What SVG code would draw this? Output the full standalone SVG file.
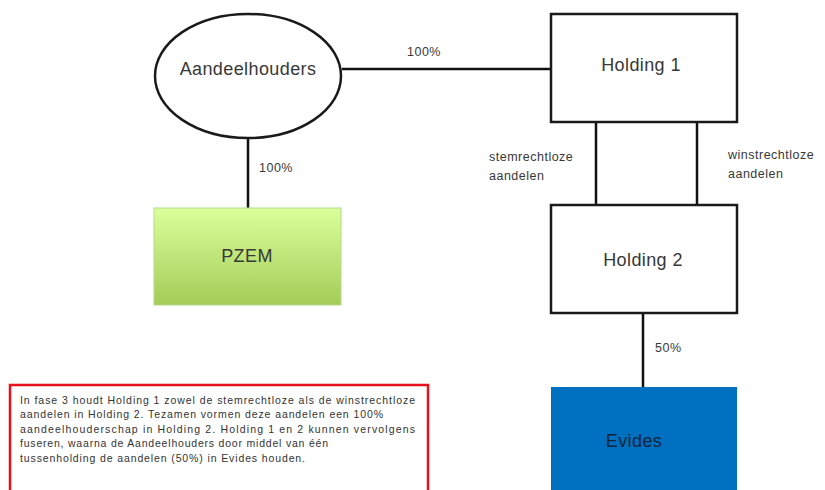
<svg xmlns="http://www.w3.org/2000/svg" width="825" height="490" viewBox="0 0 825 490">
<style>
.node{fill:#fff;stroke:#1a1a1a;stroke-width:2.5}
.lbl{font-family:"Liberation Sans",Arial,sans-serif;font-size:18px;fill:#383838;text-anchor:middle;letter-spacing:0.4px}
.sm{font-family:"Liberation Sans",Arial,sans-serif;font-size:12.5px;fill:#383838;letter-spacing:0.5px}
.note{font-family:"Liberation Sans",Arial,sans-serif;font-size:10.5px;fill:#333}
.conn line{stroke:#111;stroke-width:2.5}
</style>
<defs>
<linearGradient id="g" x1="0" y1="0" x2="0" y2="1">
<stop offset="0" stop-color="#dbff9c"/>
<stop offset="1" stop-color="#a3cc57"/>
</linearGradient>
</defs>
<rect width="825" height="490" fill="#fff"/>
<g id="connectors" class="conn">
<line x1="342" y1="69" x2="552" y2="69"/>
<line x1="248" y1="138" x2="248" y2="208"/>
<line x1="596" y1="122" x2="596" y2="205"/>
<line x1="697" y1="122" x2="697" y2="205"/>
<line x1="643" y1="313" x2="643" y2="387"/>
</g>
<g id="labels">
<text class="sm" x="407" y="56">100%</text>
<text class="sm" x="259" y="172">100%</text>
<text class="sm" x="489" y="161">stemrechtloze</text>
<text class="sm" x="489" y="180">aandelen</text>
<text class="sm" x="728" y="159">winstrechtloze</text>
<text class="sm" x="728" y="178">aandelen</text>
<text class="sm" x="655" y="352">50%</text>
</g>
<g id="aandeelhouders">
<ellipse class="node" cx="248" cy="76" rx="93" ry="62"/>
<text class="lbl" x="248" y="75" font-size="18.5">Aandeelhouders</text>
</g>
<g id="pzem">
<rect x="154" y="208" width="187" height="97" fill="url(#g)" stroke="#b6d98a" stroke-width="1"/>
<text class="lbl" x="247" y="262">PZEM</text>
</g>
<g id="holding1">
<rect class="node" x="551" y="14" width="186" height="108"/>
<text class="lbl" x="641" y="71">Holding 1</text>
</g>
<g id="holding2">
<rect class="node" x="551" y="205" width="186" height="108"/>
<text class="lbl" x="643" y="266">Holding 2</text>
</g>
<g id="evides">
<rect x="551" y="387" width="186" height="110" fill="#0070c0"/>
<text class="lbl" x="634" y="447" style="fill:#10263d">Evides</text>
</g>
<g id="note">
<rect x="10" y="385" width="418" height="115" fill="#fff" stroke="#e8111b" stroke-width="2.5"/>
<text class="note" x="20" y="404" textLength="395" lengthAdjust="spacing">In fase 3 houdt Holding 1 zowel de stemrechtloze als de winstrechtloze</text>
<text class="note" x="20" y="418" textLength="363" lengthAdjust="spacing">aandelen in Holding 2. Tezamen vormen deze aandelen een 100%</text>
<text class="note" x="20" y="433" textLength="395" lengthAdjust="spacing">aandeelhouderschap in Holding 2. Holding 1 en 2 kunnen vervolgens</text>
<text class="note" x="20" y="447" textLength="308" lengthAdjust="spacing">fuseren, waarna de Aandeelhouders door middel van één</text>
<text class="note" x="20" y="462" textLength="285" lengthAdjust="spacing">tussenholding de aandelen (50%) in Evides houden.</text>
</g>
</svg>
